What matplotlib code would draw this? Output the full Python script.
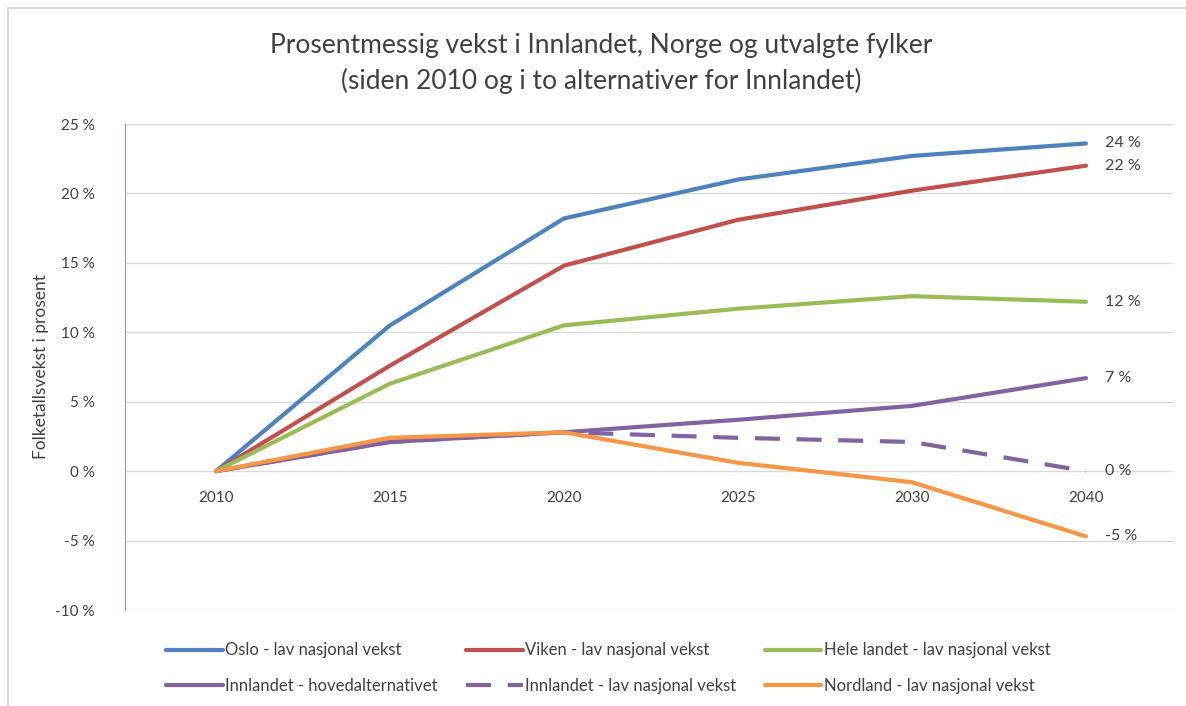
import matplotlib.pyplot as plt
from matplotlib.patches import Rectangle

plt.rcParams['font.family'] = ['Lato', 'DejaVu Sans']

# Data (percent growth since 2010)
years = ['2010', '2015', '2020', '2025', '2030', '2040']
oslo = [0, 10.5, 18.2, 21.0, 22.7, 23.6]
viken = [0, 7.6, 14.8, 18.1, 20.2, 22.0]
hele_landet = [0, 6.3, 10.5, 11.7, 12.6, 12.2]
innlandet_hoved = [0, 2.1, 2.8, 3.7, 4.7, 6.7]
innlandet_lav = [0, 2.1, 2.8, 2.4, 2.1, 0.0]
nordland = [0, 2.4, 2.8, 0.6, -0.8, -4.7]
end_labels = ['24 %', '22 %', '12 %', '7 %', '0 %', '-5 %']

series = [
    ('Oslo - lav nasjonal vekst', oslo, '#4F81BD', '-'),
    ('Viken - lav nasjonal vekst', viken, '#C0504D', '-'),
    ('Hele landet - lav nasjonal vekst', hele_landet, '#9BBB59', '-'),
    ('Innlandet - hovedalternativet', innlandet_hoved, '#8064A2', '-'),
    ('Innlandet - lav nasjonal vekst', innlandet_lav, '#8064A2', '--'),
    ('Nordland - lav nasjonal vekst', nordland, '#F79646', '-'),
]

fig = plt.figure(figsize=(11.86, 7.06), dpi=100)
ax = fig.add_axes([125 / 1186, 1 - 610 / 706, 1048 / 1186, 486 / 706])

x = list(range(len(years)))
handles = []
for (name, vals, color, ls), lab in zip(series, end_labels):
    line, = ax.plot(x, vals, color=color, linewidth=3, linestyle=ls, label=name,
                    solid_capstyle='round')
    if ls == '--':
        line.set_dashes((6, 4))
    handles.append(line)
    ax.annotate(lab, (x[-1], vals[-1]), xytext=(19, 0), textcoords='offset pixels',
                va='center', ha='left', fontsize=11.5, color='#404040')

ax.set_xlim(-0.523, len(years) - 0.5)
ax.set_ylim(-10, 25)
ax.set_yticks(range(-10, 26, 5))
ax.set_yticklabels([f'{v} %' for v in range(-10, 26, 5)])
ax.yaxis.grid(True, color='#D9D9D9', linewidth=1)
ax.set_axisbelow(True)

ax.set_xticks(x)
ax.set_xticklabels(years)
ax.spines['bottom'].set_position(('data', 0))
ax.spines['bottom'].set_visible(False)
ax.spines['top'].set_visible(False)
ax.spines['right'].set_visible(False)
ax.spines['left'].set_color('#7F9DB9')
ax.tick_params(axis='x', length=0, pad=14, labelsize=11, labelcolor='#404040')
ax.tick_params(axis='y', length=0, pad=22, labelsize=11, labelcolor='#404040')

ax.set_ylabel('Folketallsvekst i prosent', fontsize=12.5, color='#404040', labelpad=4)

fig.text(0.507, 0.935, 'Prosentmessig vekst i Innlandet, Norge og utvalgte fylker',
         ha='center', va='center', fontsize=19, color='#404040')
fig.text(0.507, 0.885, '(siden 2010 og i to alternativer for Innlandet)',
         ha='center', va='center', fontsize=19, color='#404040')

# legend filled row by row
order = [0, 3, 1, 4, 2, 5]
fig.legend([handles[i] for i in order], [series[i][0] for i in order],
           ncol=3, loc='center left', bbox_to_anchor=(151 / 1186, 1 - 668 / 706),
           frameon=False, fontsize=12, handlelength=3.4, handletextpad=0.15,
           columnspacing=1.7, labelspacing=1.15, labelcolor='#404040')

fig.patches.append(Rectangle((8 / 1186, -0.1), 1.2, 1 - 8 / 706 + 0.1,
                             transform=fig.transFigure, fill=False,
                             edgecolor='#D9D9D9', linewidth=1.5))

fig.savefig('out.png', dpi=100)
